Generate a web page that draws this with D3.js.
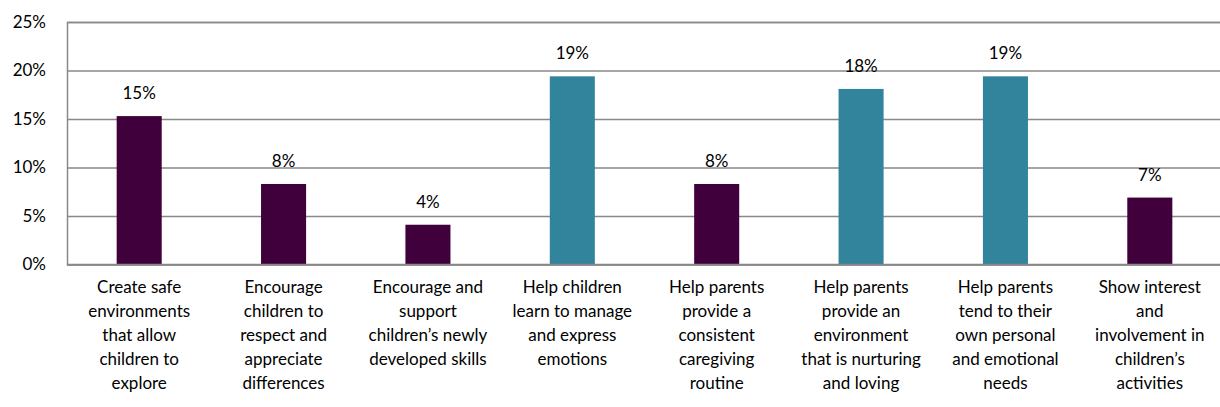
<!DOCTYPE html>
<html>
<head>
<meta charset="utf-8">
<script src="https://cdn.jsdelivr.net/npm/d3@7"></script>
<style>
  html, body { margin: 0; padding: 0; background: #fff; }
  svg { display: block; }
  text { font-family: Lato, "Noto Sans", sans-serif; fill: #000; }
</style>
</head>
<body>
<svg id="chart" width="1220" height="407"></svg>
<script>
// Category labels, with line breaks where each label wraps
const categories = [
  "Create safe\nenvironments\nthat allow\nchildren to\nexplore",
  "Encourage\nchildren to\nrespect and\nappreciate\ndifferences",
  "Encourage and\nsupport\nchildren’s newly\ndeveloped skills",
  "Help children\nlearn to manage\nand express\nemotions",
  "Help parents\nprovide a\nconsistent\ncaregiving\nroutine",
  "Help parents\nprovide an\nenvironment\nthat is nurturing\nand loving",
  "Help parents\ntend to their\nown personal\nand emotional\nneeds",
  "Show interest\nand\ninvolvement in\nchildren’s\nactivities"
];
// Share of responses for each category
const values = [0.153, 0.083, 0.041, 0.194, 0.083, 0.181, 0.194, 0.069];
// Which focus each item belongs to: child-focused or parent/emotion-focused
const groups = ["child", "child", "child", "emotion", "child", "emotion", "emotion", "child"];
const yTicks = [0, 0.05, 0.10, 0.15, 0.20, 0.25];

const colour = d3.scaleOrdinal()
  .domain(["child", "emotion"])
  .range(["#3f003c", "#31849b"]);

const svg = d3.select("#chart");
const margin = { left: 67, right: -2, top: 22, bottom: 142.5 };
const W = 1220, H = 407;
const fontSize = "17px";

const x = d3.scaleBand()
  .domain(d3.range(categories.length))
  .range([margin.left, W - margin.right])
  .paddingInner(0.688)
  .paddingOuter(0.344);

const y = d3.scaleLinear()
  .domain([0, 0.25])
  .range([H - margin.bottom, margin.top]);

const fmt = d3.format(".0%");

// Horizontal gridlines and y labels
const yAxis = d3.axisLeft(y)
  .tickValues(yTicks)
  .tickFormat(fmt)
  .tickSize(-(W - margin.right - margin.left))
  .tickPadding(21);

const gy = svg.append("g")
  .attr("transform", `translate(${margin.left},0)`)
  .call(yAxis);
gy.select(".domain").attr("stroke", "#898989").attr("stroke-width", 1.5);
gy.selectAll(".tick line").attr("stroke", "#898989").attr("stroke-width", 1.5);
gy.selectAll(".tick text")
  .style("font-family", "Lato, 'Noto Sans', sans-serif")
  .style("font-size", fontSize)
  .attr("fill", "#000");

// Bars
svg.append("g")
  .selectAll("rect")
  .data(values)
  .join("rect")
  .attr("x", (d, i) => x(i))
  .attr("width", x.bandwidth())
  .attr("y", d => y(d))
  .attr("height", d => y(0) - y(d))
  .attr("fill", (d, i) => colour(groups[i]));

// Redraw the baseline on top of the bars
svg.append("line")
  .attr("x1", margin.left).attr("x2", W - margin.right)
  .attr("y1", y(0)).attr("y2", y(0))
  .attr("stroke", "#898989").attr("stroke-width", 1.5);

// Value labels above bars
svg.append("g")
  .selectAll("text")
  .data(values)
  .join("text")
  .attr("x", (d, i) => x(i) + x.bandwidth() / 2)
  .attr("y", d => y(d) - 17)
  .attr("text-anchor", "middle")
  .style("font-size", fontSize)
  .text(d => fmt(d));

// Category labels, wrapped onto several lines
const cat = svg.append("g")
  .selectAll("text")
  .data(categories)
  .join("text")
  .attr("text-anchor", "middle")
  .style("font-size", fontSize)
  .attr("x", (d, i) => x(i) + x.bandwidth() / 2)
  .attr("y", 293);

cat.selectAll("tspan")
  .data((d, i) => d.split("\n").map(s => ({ s, i })))
  .join("tspan")
  .attr("x", d => x(d.i) + x.bandwidth() / 2)
  .attr("dy", (d, j) => j === 0 ? 0 : 24)
  .text(d => d.s);
</script>
</body>
</html>
